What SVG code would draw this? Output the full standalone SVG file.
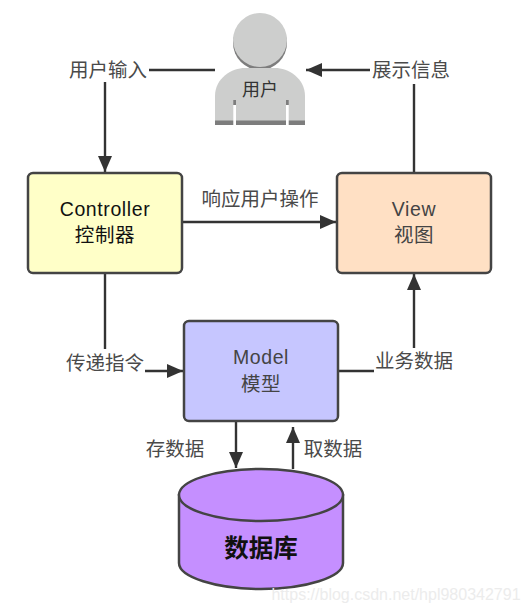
<svg xmlns="http://www.w3.org/2000/svg" width="528" height="612" viewBox="0 0 528 612">
<style>
text{font-family:"Liberation Sans","Noto Sans CJK SC",sans-serif;text-anchor:middle;fill:#333}
.lbl{font-size:19.500px;fill:#4a4a4a}
.nd{font-size:19.500px;letter-spacing:.6px}
.box{stroke:#444;stroke-width:2.5}
.ln{fill:none;stroke:#333;stroke-width:2.400}
</style>
<defs><marker id="ah" markerUnits="userSpaceOnUse" markerWidth="18" markerHeight="14" refX="16" refY="7" orient="auto"><path d="M0 0L16 7L0 14z" fill="#333"/></marker></defs>
<rect width="528" height="612" fill="#fff"/>
<g id="connectors">
<path class="ln" d="M215 70H149"/>
<path class="ln" d="M105 82V172" marker-end="url(#ah)"/>
<path class="ln" d="M414 172V84"/>
<path class="ln" d="M370 70H306" marker-end="url(#ah)"/>
<path class="ln" d="M183 222H336" marker-end="url(#ah)"/>
<path class="ln" d="M105 273V349"/>
<path class="ln" d="M145 371H183" marker-end="url(#ah)"/>
<path class="ln" d="M338 371H374"/>
<path class="ln" d="M414 348V274" marker-end="url(#ah)"/>
<path class="ln" d="M236 421V468" marker-end="url(#ah)"/>
<path class="ln" d="M293 469V427" marker-end="url(#ah)"/>
</g>
<g id="labels">
<text class="lbl" x="108" y="77">用户输入</text>
<text class="lbl" x="411" y="77">展示信息</text>
<text class="lbl" x="260" y="206">响应用户操作</text>
<text class="lbl" x="105" y="370">传递指令</text>
<text class="lbl" x="414" y="368">业务数据</text>
<text class="lbl" x="175" y="456">存数据</text>
<text class="lbl" x="333" y="456">取数据</text>
</g>
<g id="user">
<circle cx="260" cy="43" r="27" fill="#7d7d7d"/>
<circle cx="260" cy="40" r="27" fill="#cdcecd"/>
<path d="M215 125V96C215 78 232 68 245 68H275C288 68 305 78 305 96V125z" fill="#cdcecd"/>
<rect x="215" y="120.500" width="90" height="4.500" fill="#7d7d7d"/>
<rect x="233.300" y="100" width="2.700" height="5" fill="#7d7d7d"/>
<rect x="286" y="100" width="2.700" height="5" fill="#7d7d7d"/>
<rect x="233.300" y="105" width="2.700" height="20" fill="#fff"/>
<rect x="286" y="105" width="2.700" height="20" fill="#fff"/>
<text x="260" y="96" font-size="18" style="fill:#333">用户</text>
</g>
<g id="controller">
<rect class="box" x="28" y="173" width="154" height="100" rx="5" fill="#ffffc8"/>
<text class="nd" x="105" y="216" style="fill:#111">Controller</text>
<text class="nd" x="105" y="242" style="fill:#111">控制器</text>
</g>
<g id="view">
<rect class="box" x="337" y="173" width="154" height="100" rx="5" fill="#ffe0c4"/>
<text class="nd" x="414" y="216" style="fill:#444">View</text>
<text class="nd" x="414" y="242" style="fill:#444">视图</text>
</g>
<g id="model">
<rect class="box" x="184" y="321" width="154" height="100" rx="5" fill="#c6c6ff"/>
<text class="nd" x="261" y="364" style="fill:#444">Model</text>
<text class="nd" x="261" y="391" style="fill:#444">模型</text>
</g>
<g id="database">
<path class="box" d="M179 495V563C179 577 216 589 261 589S343 577 343 563V495z" fill="#c58fff"/>
<ellipse class="box" cx="261" cy="495" rx="82" ry="26" fill="#c58fff"/>
<text x="261" y="557" font-size="24.500" font-weight="bold" style="fill:#111">数据库</text>
</g>
<text x="396" y="600" font-size="16" style="fill:#ececec">https://blog.csdn.net/hpl980342791</text>
</svg>
